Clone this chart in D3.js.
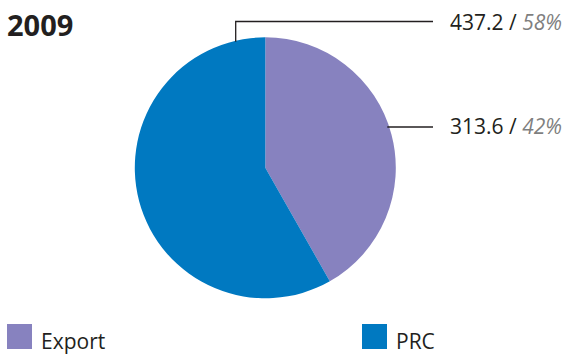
<!DOCTYPE html>
<html><head><meta charset="utf-8">
<script src="https://cdn.jsdelivr.net/npm/d3@7/dist/d3.min.js"></script>
<style>
html,body{margin:0;padding:0;background:#fff;}
svg{display:block;font-family:"Open Sans",sans-serif;}
</style></head>
<body>
<script>
const title = "2009";
const categories = ["Export", "PRC"];
const values = [313.6, 437.2];
const percents = ["42%", "58%"];
const colors = ["#8782BF", "#0079C1"];

const W = 566, H = 354;
const svg = d3.select("body").append("svg").attr("width", W).attr("height", H);

const cx = 265.3, cy = 167.8, R = 130.5;

svg.append("text").attr("x", 7).attr("y", 36)
  .attr("font-size", 29).attr("font-weight", "bold").attr("fill", "#231F20")
  .text(title);

const pie = d3.pie().sort(null).value(d => d)(values);
const arc = d3.arc().innerRadius(0).outerRadius(R);
const g = svg.append("g").attr("transform", `translate(${cx},${cy})`);
g.selectAll("path").data(pie).join("path")
  .attr("d", arc).attr("fill", (d, i) => colors[i]);

// leader lines
const lineColor = "#231F20";
// PRC label (top)
const prcX = 235.7, prcTopY = 21.5;
const prcEdgeY = cy - Math.sqrt(R * R - (prcX - cx) ** 2);
svg.append("polyline")
  .attr("points", `${prcX},${prcEdgeY + 1} ${prcX},${prcTopY} 433,${prcTopY}`)
  .attr("fill", "none").attr("stroke", lineColor).attr("stroke-width", 1.3);
// Export label
const expY = 127;
const expEdgeX = cx + Math.sqrt(R * R - (expY - cy) ** 2);
svg.append("line").attr("x1", expEdgeX - 2).attr("x2", 433)
  .attr("y1", expY).attr("y2", expY)
  .attr("stroke", lineColor).attr("stroke-width", 1.3);

function label(y, v, p) {
  const t = svg.append("text").attr("x", 450).attr("y", y).attr("font-size", 21).attr("fill", "#231F20");
  t.append("tspan").text(v.toFixed(1) + " / ");
  t.append("tspan").attr("font-style", "italic").attr("fill", "#7F7F7F").text(p);
}
label(30, values[1], percents[1]);
label(134, values[0], percents[0]);

// legend
const legX = [7, 362];
categories.forEach((c, i) => {
  svg.append("rect").attr("x", legX[i]).attr("y", 324).attr("width", 25).attr("height", 25)
    .attr("fill", colors[i]);
  svg.append("text").attr("x", legX[i] + 34).attr("y", 349).attr("font-size", 21)
    .attr("fill", "#231F20").text(c);
});
</script>
</body></html>
